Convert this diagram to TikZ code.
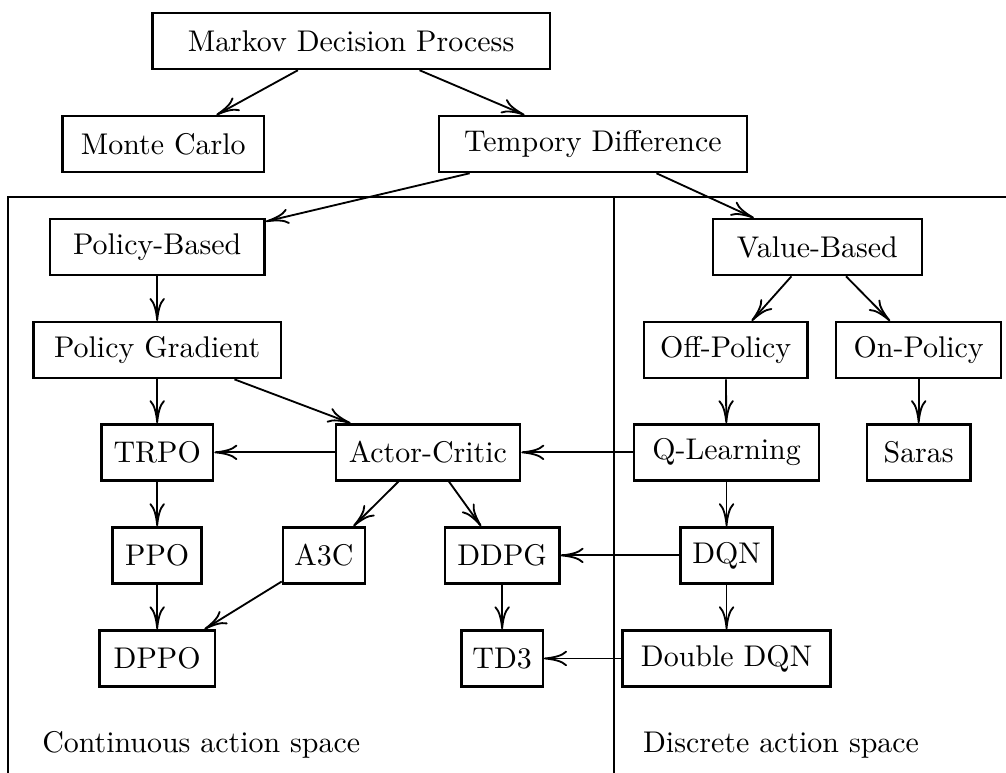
\documentclass[tikz,border=0pt]{standalone}
\usetikzlibrary{arrows.meta}
\begin{document}
\begin{tikzpicture}[font = \fontsize{9.75}{12}\selectfont,
                    box/.style = {draw, thick, minimum height = .64cm,
                                 minimum width = #1, inner sep = 3pt},
                    box/.default = 0pt,
                    link/.style = {-{To[length = 7.5pt, width = 5pt]}, semithick}]
      \useasboundingbox (0,0) rectangle (11.52,-8.85);
      % frame for the two action spaces
      \draw [semithick] (0.09,-8.85) |- (11.52,-2.26);
      \draw [semithick] (7.03,-2.26) -- (7.03,-8.85);
      % nodes
      \node [box = 4.55cm] (mdp) at (4.02,-0.47) {Markov Decision Process};
      \node [box = 2.31cm] (mc) at (1.87,-1.65) {Monte Carlo};
      \node [box = 3.53cm] (td) at (6.79,-1.65) {Tempory Difference};
      \node [box = 2.46cm] (pb) at (1.80,-2.83) {Policy-Based};
      \node [box = 2.39cm] (vb) at (9.36,-2.83) {Value-Based};
      \node [box = 2.83cm] (pg) at (1.80,-4.01) {Policy Gradient};
      \node [box = 1.87cm] (off) at (8.31,-4.01) {Off-Policy};
      \node [box = 1.89cm] (on) at (10.52,-4.01) {On-Policy};
      \node [box = 1.28cm] (trpo) at (1.80,-5.18) {TRPO};
      \node [box = 2.11cm] (ac) at (4.90,-5.18) {Actor-Critic};
      \node [box = 2.12cm] (ql) at (8.32,-5.18) {Q-Learning};
      \node [box = 1.19cm] (saras) at (10.52,-5.18) {Saras};
      \node [box = 1.02cm] (ppo) at (1.80,-6.36) {PPO};
      \node [box = .94cm] (a3c) at (3.71,-6.36) {A3C};
      \node [box = 1.31cm] (ddpg) at (5.75,-6.36) {DDPG};
      \node [box = 1.05cm] (dqn) at (8.32,-6.36) {DQN};
      \node [box = 1.32cm] (dppo) at (1.80,-7.54) {DPPO};
      \node [box = .93cm] (td3) at (5.75,-7.54) {TD3};
      \node [box = 2.38cm] (ddqn) at (8.32,-7.54) {Double DQN};
      \node [anchor = west] (cont) at (0.36,-8.53) {Continuous action space};
      \node [anchor = west] (disc) at (7.24,-8.53) {Discrete action space};
      % connectors
      \draw [link] (mdp) -- (mc);
      \draw [link] (mdp) -- (td);
      \draw [link] (td) -- (pb);
      \draw [link] (td) -- (vb);
      \draw [link] (pb) -- (pg);
      \draw [link] (vb) -- (off);
      \draw [link] (vb) -- (on);
      \draw [link] (pg) -- (trpo);
      \draw [link] (pg) -- (ac);
      \draw [link] (off) -- (ql);
      \draw [link] (on) -- (saras);
      \draw [link] (ac) -- (trpo);
      \draw [link] (ql) -- (ac);
      \draw [link] (trpo) -- (ppo);
      \draw [link] (ac) -- (a3c);
      \draw [link] (ac) -- (ddpg);
      \draw [link] (ql) -- (dqn);
      \draw [link] (dqn) -- (ddpg);
      \draw [link] (ppo) -- (dppo);
      \draw [link] (a3c) -- (dppo);
      \draw [link] (ddpg) -- (td3);
      \draw [link] (dqn) -- (ddqn);
      \draw [link] (ddqn) -- (td3);
    \end{tikzpicture}
\end{document}
